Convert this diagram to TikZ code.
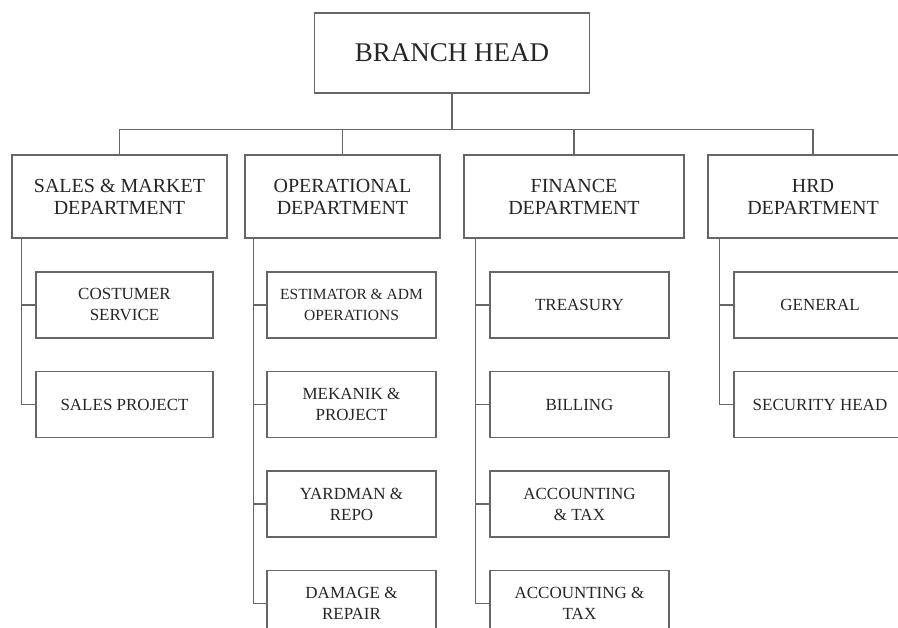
\documentclass[tikz,border=0pt]{standalone}
\usepackage{fontspec}
\setmainfont{Liberation Serif}
\usetikzlibrary{positioning}
\tikzset{
  box/.style={draw=black!60, line width=1.5pt, align=center, text=black!85, inner sep=0pt}, % every frame of the chart
  headbox/.style={box, minimum width=275, minimum height=80, font=\fontsize{27}{30}\selectfont},
  deptbox/.style={box, minimum height=83, font=\fontsize{20}{22}\selectfont},
  unitbox/.style={box, minimum height=66, font=\fontsize{17}{21}\selectfont},
  link/.style={draw=black!60, line width=1.5pt}, % the connecting lines
  node distance=32pt, % gap between two units in one column
}

\begin{document}
\begin{tikzpicture}[x=1pt, y=-1pt]
  \clip (0,0) rectangle (898,628);
  \fill[white] (0,0) rectangle (898,628);

  \node[headbox] (head) at (452,53) {BRANCH HEAD};

  \node[deptbox, minimum width=215] (sales) at (119.5,196.5) {SALES \& MARKET\\DEPARTMENT};
  \node[deptbox, minimum width=195] (oper) at (342.5,196.5) {OPERATIONAL\\DEPARTMENT};
  \node[deptbox, minimum width=220] (fin) at (574,196.5) {FINANCE\\DEPARTMENT};
  \node[deptbox, minimum width=210] (hrd) at (813,196.5) {HRD\\DEPARTMENT};

  % sales & market
  \node[unitbox, minimum width=177] (cs) at (124.5,305) {COSTUMER\\SERVICE};
  \node[unitbox, minimum width=177, below=of cs] (sp) {SALES PROJECT};

  % operational
  \node[unitbox, minimum width=169, font=\fontsize{15.5}{21}\selectfont] (est) at (351.5,305) {ESTIMATOR \& ADM\\OPERATIONS};
  \node[unitbox, minimum width=169, below=of est] (mek) {MEKANIK \&\\PROJECT};
  \node[unitbox, minimum width=169, below=of mek] (yard) {YARDMAN \&\\REPO};
  \node[unitbox, minimum width=169, below=of yard] (dmg) {DAMAGE \&\\REPAIR};

  % finance
  \node[unitbox, minimum width=179] (tre) at (579.5,305) {TREASURY};
  \node[unitbox, minimum width=179, below=of tre] (bil) {BILLING};
  \node[unitbox, minimum width=179, below=of bil] (acc) {ACCOUNTING\\\& TAX};
  \node[unitbox, minimum width=179, below=of acc] (tax) {ACCOUNTING \&\\TAX};

  % hrd
  \node[unitbox, minimum width=172] (gen) at (820,305) {GENERAL};
  \node[unitbox, minimum width=172, below=of gen] (sec) {SECURITY HEAD};

  \foreach \d in {sales, oper, fin, hrd}
    \draw[link] (head.south) -- ++(0,36) -| (\d.north);

  \foreach \u in {cs, sp}
    \draw[link] ([xshift=10pt]sales.south west) |- (\u.west);
  \foreach \u in {est, mek, yard, dmg}
    \draw[link] ([xshift=9pt]oper.south west) |- (\u.west);
  \foreach \u in {tre, bil, acc, tax}
    \draw[link] ([xshift=12pt]fin.south west) |- (\u.west);
  \foreach \u in {gen, sec}
    \draw[link] ([xshift=12pt]hrd.south west) |- (\u.west);
\end{tikzpicture}
\end{document}
